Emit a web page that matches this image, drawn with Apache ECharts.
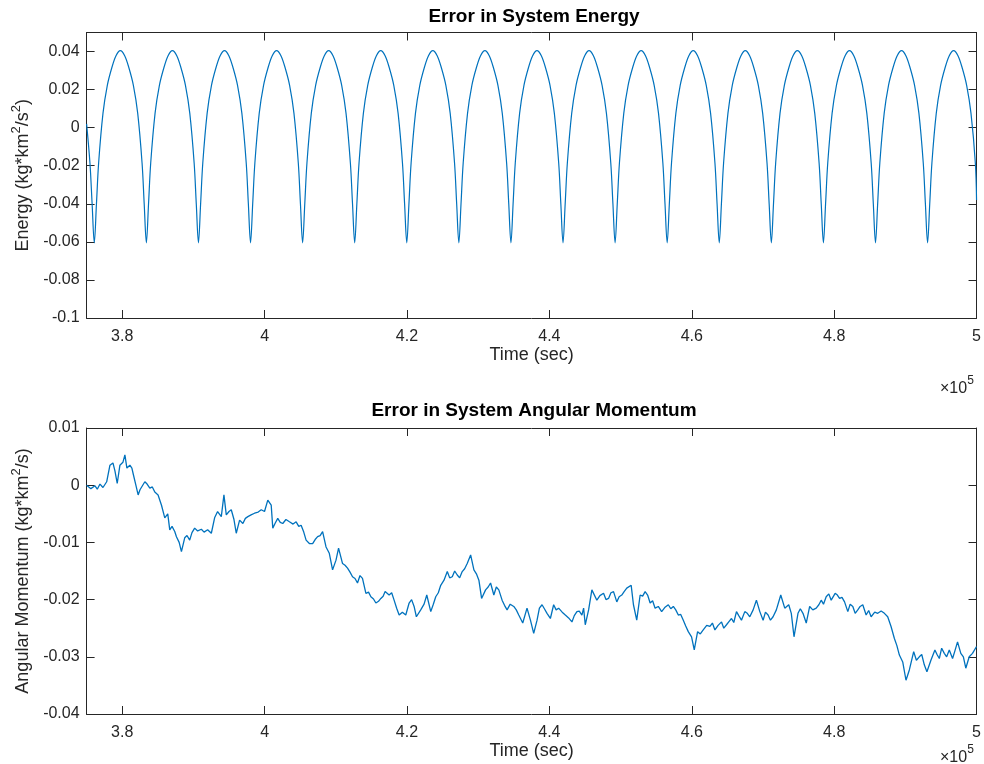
<!DOCTYPE html>
<html>
<head>
<meta charset="utf-8">
<script src="https://cdn.jsdelivr.net/npm/echarts@6/dist/echarts.min.js"></script>
<style>
html,body{margin:0;padding:0;background:#fff;}
#chart{width:984px;height:764px;}
</style>
</head>
<body>
<div id="chart"></div>
<script>
// ---- Data (time in seconds) ----
const energyTitle = 'Error in System Energy';
const momentumTitle = 'Error in System Angular Momentum';
const xTicks = [380000, 400000, 420000, 440000, 460000, 480000, 500000];

const energyPoints = [
  [375000, 0.002], [375470, -0.0186], [375775, -0.040],
  [376080, -0.0605], [376385, -0.040], [376690, -0.0186], [377300, 0.0075], [377910, 0.0222], [378520, 0.0312], [379130, 0.0378], [379740, 0.0405], [380350, 0.0378], [380960, 0.0312], [381570, 0.0222], [382180, 0.0075], [382790, -0.0186], [383090, -0.040],
  [383395, -0.0605], [383700, -0.040], [384005, -0.0186], [384615, 0.0075], [385225, 0.0222], [385835, 0.0312], [386445, 0.0378], [387055, 0.0405], [387665, 0.0378], [388275, 0.0312], [388885, 0.0222], [389495, 0.0075], [390105, -0.0186], [390405, -0.040],
  [390710, -0.0605], [391015, -0.040], [391320, -0.0186], [391930, 0.0075], [392540, 0.0222], [393150, 0.0312], [393760, 0.0378], [394370, 0.0405], [394980, 0.0378], [395590, 0.0312], [396200, 0.0222], [396810, 0.0075], [397420, -0.0186], [397720, -0.040],
  [398025, -0.0605], [398330, -0.040], [398635, -0.0186], [399245, 0.0075], [399855, 0.0222], [400465, 0.0312], [401075, 0.0378], [401685, 0.0405], [402295, 0.0378], [402905, 0.0312], [403515, 0.0222], [404125, 0.0075], [404735, -0.0186], [405035, -0.040],
  [405340, -0.0605], [405645, -0.040], [405950, -0.0186], [406560, 0.0075], [407170, 0.0222], [407780, 0.0312], [408390, 0.0378], [409000, 0.0405], [409610, 0.0378], [410220, 0.0312], [410830, 0.0222], [411440, 0.0075], [412050, -0.0186], [412350, -0.040],
  [412655, -0.0605], [412960, -0.040], [413265, -0.0186], [413875, 0.0075], [414485, 0.0222], [415095, 0.0312], [415705, 0.0378], [416315, 0.0405], [416925, 0.0378], [417535, 0.0312], [418145, 0.0222], [418755, 0.0075], [419365, -0.0186], [419665, -0.040],
  [419970, -0.0605], [420275, -0.040], [420580, -0.0186], [421190, 0.0075], [421800, 0.0222], [422410, 0.0312], [423020, 0.0378], [423630, 0.0405], [424240, 0.0378], [424850, 0.0312], [425460, 0.0222], [426070, 0.0075], [426680, -0.0186], [426980, -0.040],
  [427285, -0.0605], [427590, -0.040], [427895, -0.0186], [428505, 0.0075], [429115, 0.0222], [429725, 0.0312], [430335, 0.0378], [430945, 0.0405], [431555, 0.0378], [432165, 0.0312], [432775, 0.0222], [433385, 0.0075], [433995, -0.0186], [434295, -0.040],
  [434600, -0.0605], [434905, -0.040], [435210, -0.0186], [435820, 0.0075], [436430, 0.0222], [437040, 0.0312], [437650, 0.0378], [438260, 0.0405], [438870, 0.0378], [439480, 0.0312], [440090, 0.0222], [440700, 0.0075], [441310, -0.0186], [441610, -0.040],
  [441915, -0.0605], [442220, -0.040], [442525, -0.0186], [443135, 0.0075], [443745, 0.0222], [444355, 0.0312], [444965, 0.0378], [445575, 0.0405], [446185, 0.0378], [446795, 0.0312], [447405, 0.0222], [448015, 0.0075], [448625, -0.0186], [448925, -0.040],
  [449230, -0.0605], [449535, -0.040], [449840, -0.0186], [450450, 0.0075], [451060, 0.0222], [451670, 0.0312], [452280, 0.0378], [452890, 0.0405], [453500, 0.0378], [454110, 0.0312], [454720, 0.0222], [455330, 0.0075], [455940, -0.0186], [456240, -0.040],
  [456545, -0.0605], [456850, -0.040], [457155, -0.0186], [457765, 0.0075], [458375, 0.0222], [458985, 0.0312], [459595, 0.0378], [460205, 0.0405], [460815, 0.0378], [461425, 0.0312], [462035, 0.0222], [462645, 0.0075], [463255, -0.0186], [463555, -0.040],
  [463860, -0.0605], [464165, -0.040], [464470, -0.0186], [465080, 0.0075], [465690, 0.0222], [466300, 0.0312], [466910, 0.0378], [467520, 0.0405], [468130, 0.0378], [468740, 0.0312], [469350, 0.0222], [469960, 0.0075], [470570, -0.0186], [470870, -0.040],
  [471175, -0.0605], [471480, -0.040], [471785, -0.0186], [472395, 0.0075], [473005, 0.0222], [473615, 0.0312], [474225, 0.0378], [474835, 0.0405], [475445, 0.0378], [476055, 0.0312], [476665, 0.0222], [477275, 0.0075], [477885, -0.0186], [478185, -0.040],
  [478490, -0.0605], [478795, -0.040], [479100, -0.0186], [479710, 0.0075], [480320, 0.0222], [480930, 0.0312], [481540, 0.0378], [482150, 0.0405], [482760, 0.0378], [483370, 0.0312], [483980, 0.0222], [484590, 0.0075], [485200, -0.0186], [485500, -0.040],
  [485805, -0.0605], [486110, -0.040], [486415, -0.0186], [487025, 0.0075], [487635, 0.0222], [488245, 0.0312], [488855, 0.0378], [489465, 0.0405], [490075, 0.0378], [490685, 0.0312], [491295, 0.0222], [491905, 0.0075], [492515, -0.0186], [492815, -0.040],
  [493120, -0.0605], [493425, -0.040], [493730, -0.0186], [494340, 0.0075], [494950, 0.0222], [495560, 0.0312], [496170, 0.0378], [496780, 0.0405], [497390, 0.0378], [498000, 0.0312], [498610, 0.0222], [499220, 0.0075], [499830, -0.0186], [500000, -0.038]
];

const momentumPoints = [
  [375000, 0.0000], [375600, -0.0006], [376180, -0.0001], [376500, -0.0007], [376880, 0.0002], [377300, -0.0004], [377820, 0.0006],
  [378280, 0.0035], [378700, 0.0039], [378980, 0.0025], [379300, 0.0003], [379680, 0.0035], [380100, 0.0040], [380380, 0.0053],
  [380660, 0.0030], [381080, 0.0035], [381360, 0.0030], [381540, 0.0020], [381920, 0.0000], [382240, -0.0017], [382500, -0.0008],
  [382760, -0.0005], [383180, 0.0006], [383500, 0.0002], [383880, -0.0005], [384230, -0.0003], [384580, -0.0012], [385040, -0.0017],
  [385520, -0.0035], [385980, -0.0057], [386400, -0.0050], [386680, -0.0078], [387000, -0.0072], [387380, -0.0081], [387620, -0.0090],
  [388000, -0.0100], [388320, -0.0116], [388780, -0.0092], [389100, -0.0088], [389480, -0.0096], [389800, -0.0083], [390180, -0.0075],
  [390600, -0.0080], [391120, -0.0077], [391500, -0.0082], [392000, -0.0078], [392520, -0.0084], [392980, -0.0057], [393400, -0.0046],
  [393920, -0.0055], [394290, -0.0017], [394620, -0.0052], [395000, -0.0046], [395320, -0.0043], [395700, -0.0060], [396020, -0.0084],
  [396490, -0.0061], [396950, -0.0067], [397300, -0.0058], [397650, -0.0055], [398100, -0.0052], [398590, -0.0049], [399100, -0.0047],
  [399530, -0.0043], [399990, -0.0046], [400450, -0.0026], [400930, -0.0035], [401150, -0.0075], [401500, -0.0066], [401850, -0.0058],
  [402200, -0.0065], [402550, -0.0067], [403000, -0.0060], [403490, -0.0064], [404000, -0.0068], [404430, -0.0064], [404800, -0.0072],
  [405130, -0.0070], [405500, -0.0082], [405830, -0.0096], [406290, -0.0102], [406750, -0.0102], [407100, -0.0095], [407450, -0.0090],
  [407800, -0.0088], [408150, -0.0081], [408630, -0.0108], [409090, -0.0119], [409550, -0.0148], [410030, -0.0131], [410390, -0.0110],
  [410950, -0.0137], [411300, -0.0140], [411650, -0.0145], [412000, -0.0152], [412350, -0.0160], [412700, -0.0163], [413050, -0.0171],
  [413400, -0.0158], [413750, -0.0163], [414230, -0.0189], [414600, -0.0187], [414930, -0.0195], [415300, -0.0199], [415630, -0.0206],
  [416000, -0.0203], [416330, -0.0198], [416650, -0.0194], [416930, -0.0186], [417490, -0.0192], [417850, -0.0188], [418190, -0.0201],
  [418550, -0.0215], [418900, -0.0227], [419350, -0.0222], [419830, -0.0227], [420300, -0.0206], [420650, -0.0200], [421000, -0.0212],
  [421320, -0.0230], [421930, -0.0218], [422400, -0.0208], [422780, -0.0192], [423340, -0.0221], [423700, -0.0208], [424040, -0.0195],
  [424400, -0.0188], [424740, -0.0175], [425200, -0.0166], [425660, -0.0151], [426000, -0.0162], [426360, -0.0160], [426700, -0.0150],
  [427060, -0.0157], [427400, -0.0162], [427760, -0.0151], [428100, -0.0146], [428460, -0.0137], [428940, -0.0122], [429400, -0.0148],
  [429750, -0.0155], [430100, -0.0166], [430480, -0.0198], [431040, -0.0183], [431400, -0.0178], [431740, -0.0171], [432200, -0.0192],
  [432550, -0.0178], [432900, -0.0183], [433360, -0.0201], [433700, -0.0210], [434060, -0.0218], [434500, -0.0208], [435000, -0.0212],
  [435350, -0.0218], [435700, -0.0227], [436260, -0.0241], [436860, -0.0215], [437340, -0.0236], [437800, -0.0259], [438270, -0.0236],
  [438600, -0.0215], [438970, -0.0209], [439300, -0.0216], [439670, -0.0224], [440140, -0.0233], [440600, -0.0209], [440950, -0.0218],
  [441300, -0.0215], [441800, -0.0222], [442240, -0.0227], [442700, -0.0232], [443170, -0.0239], [443500, -0.0228], [443870, -0.0221],
  [444200, -0.0220], [444570, -0.0227], [444810, -0.0215], [445040, -0.0244], [445510, -0.0218], [445970, -0.0183], [446670, -0.0201],
  [447100, -0.0193], [447610, -0.0189], [447950, -0.0200], [448310, -0.0198], [448650, -0.0188], [449010, -0.0186], [449470, -0.0204],
  [449800, -0.0195], [450170, -0.0192], [450500, -0.0186], [450870, -0.0180], [451490, -0.0175], [451810, -0.0209], [452270, -0.0236],
  [452750, -0.0192], [453100, -0.0194], [453450, -0.0186], [453800, -0.0192], [454150, -0.0206], [454500, -0.0202], [454850, -0.0215],
  [455300, -0.0212], [455770, -0.0221], [456200, -0.0214], [456710, -0.0209], [457050, -0.0216], [457410, -0.0212], [457750, -0.0218],
  [458110, -0.0227], [458450, -0.0226], [458810, -0.0236], [459150, -0.0246], [459510, -0.0256], [459970, -0.0265], [460350, -0.0288],
  [460820, -0.0256], [461200, -0.0260], [461610, -0.0253], [462100, -0.0245], [462550, -0.0247], [462900, -0.0241], [463250, -0.0253],
  [463700, -0.0245], [464180, -0.0239], [464500, -0.0250], [464880, -0.0244], [465250, -0.0238], [465580, -0.0233], [465900, -0.0240],
  [466280, -0.0221], [466600, -0.0228], [466980, -0.0236], [467450, -0.0221], [467800, -0.0224], [468150, -0.0230], [468620, -0.0218],
  [469080, -0.0201], [469560, -0.0221], [470020, -0.0236], [470350, -0.0222], [470720, -0.0227], [471050, -0.0236], [471420, -0.0230],
  [471880, -0.0218], [472500, -0.0192], [473060, -0.0215], [473620, -0.0209], [473980, -0.0224], [474360, -0.0265], [474920, -0.0224],
  [475250, -0.0216], [475620, -0.0224], [476080, -0.0241], [476560, -0.0212], [477000, -0.0218], [477480, -0.0215], [477850, -0.0209],
  [478180, -0.0201], [478500, -0.0208], [478880, -0.0195], [479250, -0.0190], [479580, -0.0201], [480140, -0.0189], [480450, -0.0192],
  [480760, -0.0198], [481100, -0.0196], [481460, -0.0204], [481920, -0.0221], [482250, -0.0208], [482620, -0.0212], [482950, -0.0224],
  [483320, -0.0218], [483650, -0.0212], [484020, -0.0209], [484490, -0.0227], [484850, -0.0219], [485190, -0.0230], [485700, -0.0222],
  [486120, -0.0224], [486600, -0.0220], [487060, -0.0224], [487520, -0.0230], [487990, -0.0247], [488460, -0.0268], [488800, -0.0280],
  [489160, -0.0297], [489630, -0.0309], [490090, -0.0341], [490560, -0.0323], [491170, -0.0291], [491550, -0.0306], [491960, -0.0300],
  [492300, -0.0296], [492660, -0.0314], [493030, -0.0326], [493590, -0.0306], [494150, -0.0288], [494450, -0.0296], [494770, -0.0303],
  [495100, -0.0285], [495470, -0.0294], [495800, -0.0300], [496170, -0.0288], [496630, -0.0303], [496950, -0.0290], [497330, -0.0274],
  [497790, -0.0294], [498150, -0.0300], [498490, -0.0320], [498970, -0.0300], [499430, -0.0294], [500000, -0.0282]
];

// ---- Styling ----
const FONT = 'Liberation Sans, Arial, Helvetica, sans-serif';
const AX = '#262626';
const LINE = '#0072BD';
const X_MIN = 375000, X_MAX = 500000;

function xLabel(v) {
  return xTicks.indexOf(v) >= 0 ? String(+(v / 1e5).toFixed(2)) : '';
}
function yLabelFactory(step) {
  return function (v) {
    const k = v / step;
    if (Math.abs(k - Math.round(k)) > 1e-6) return '';
    return String(+v.toFixed(3));
  };
}

const gridDefs = [
  { left: 86.6, right: 5, top: 32.5, height: 285.5 },
  { left: 86.6, right: 5, top: 428, height: 286 }
];

function mainX(gi) {
  return {
    gridIndex: gi, type: 'value', min: X_MIN, max: X_MAX, splitNumber: 6,
    position: 'bottom',
    axisLine: { show: true, onZero: false, lineStyle: { color: AX, width: 1 } },
    axisTick: { show: true, inside: true, length: 8, lineStyle: { color: AX } },
    splitLine: { show: false },
    axisLabel: { show: true, formatter: xLabel, color: AX, fontSize: 16, fontFamily: FONT, margin: 11 },
    name: 'Time (sec)', nameLocation: 'middle', nameGap: 27,
    nameTextStyle: { color: AX, fontSize: 18, fontFamily: FONT }
  };
}
function mirrorX(gi) {
  return {
    gridIndex: gi, type: 'value', min: X_MIN, max: X_MAX, splitNumber: 6,
    position: 'top',
    axisLine: { show: true, onZero: false, lineStyle: { color: AX, width: 1 } },
    axisTick: { show: true, inside: true, length: 8, lineStyle: { color: AX } },
    splitLine: { show: false },
    axisLabel: { show: false }
  };
}
function mainY(gi, min, max, step, nameRich) {
  return {
    gridIndex: gi, type: 'value', min: min, max: max, interval: step,
    position: 'left',
    axisLine: { show: true, onZero: false, lineStyle: { color: AX, width: 1 } },
    axisTick: { show: true, inside: true, length: 8, lineStyle: { color: AX } },
    splitLine: { show: false },
    axisLabel: { formatter: yLabelFactory(step), color: AX, fontSize: 16, fontFamily: FONT, margin: 7 },
    name: nameRich, nameLocation: 'middle', nameGap: 46, nameRotate: 90,
    nameTextStyle: {
      color: AX, fontFamily: FONT,
      rich: {
        n: { fontSize: 18, color: AX, fontFamily: FONT, lineHeight: 22, verticalAlign: 'bottom' },
        s: { fontSize: 13, color: AX, fontFamily: FONT, lineHeight: 22, verticalAlign: 'top', padding: [0, 0, 6, 0] }
      }
    }
  };
}
function mirrorY(gi, min, max, step) {
  return {
    gridIndex: gi, type: 'value', min: min, max: max, interval: step,
    position: 'right',
    axisLine: { show: true, onZero: false, lineStyle: { color: AX, width: 1 } },
    axisTick: { show: true, inside: true, length: 8, lineStyle: { color: AX } },
    splitLine: { show: false },
    axisLabel: { show: false }
  };
}

const expRich = {
  a: { fontSize: 16, fontFamily: FONT, fill: AX, color: AX, verticalAlign: 'bottom', lineHeight: 22 },
  b: { fontSize: 12, fontFamily: FONT, fill: AX, color: AX, verticalAlign: 'top', lineHeight: 22 }
};

const chart = echarts.init(document.getElementById('chart'), null, { renderer: 'canvas' });
const option = {
  animation: false,
  backgroundColor: '#ffffff',
  textStyle: { fontFamily: FONT },
  grid: gridDefs,
  xAxis: [mainX(0), mirrorX(0), mainX(1), mirrorX(1)],
  yAxis: [
    mainY(0, -0.1, 0.05, 0.02, '{n|Energy (kg*km}{s|2}{n|/s}{s|2}{n|)}'),
    mirrorY(0, -0.1, 0.05, 0.02),
    mainY(1, -0.04, 0.01, 0.01, '{n|Angular Momentum (kg*km}{s|2}{n|/s)}'),
    mirrorY(1, -0.04, 0.01, 0.01)
  ],
  series: [
    {
      type: 'line', xAxisIndex: 0, yAxisIndex: 0, data: energyPoints,
      showSymbol: false, smooth: 0.35, clip: true,
      lineStyle: { color: LINE, width: 1.2 }, itemStyle: { color: LINE }
    },
    {
      type: 'line', xAxisIndex: 2, yAxisIndex: 2, data: momentumPoints,
      showSymbol: false, clip: true,
      lineStyle: { color: LINE, width: 1.3 }, itemStyle: { color: LINE }
    }
  ],
  graphic: [
    { type: 'text', x: 534, y: 7, style: { text: energyTitle, align: 'center', fill: '#000', font: 'bold 19px ' + FONT } },
    { type: 'text', x: 534, y: 401, style: { text: momentumTitle, align: 'center', fill: '#000', font: 'bold 19px ' + FONT } },
    { type: 'text', x: 940, y: 375, style: { text: '{a|×10}{b|5}', fill: AX, rich: expRich } },
    { type: 'text', x: 940, y: 744, style: { text: '{a|×10}{b|5}', fill: AX, rich: expRich } }
  ]
};
chart.setOption(option);
</script>
</body>
</html>
